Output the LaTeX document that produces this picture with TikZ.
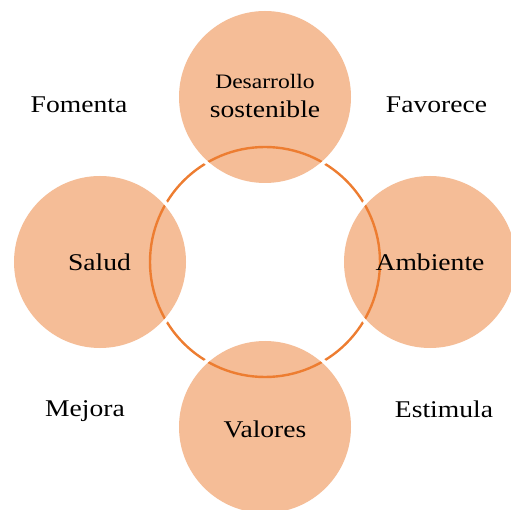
\documentclass[tikz,border=0pt]{standalone}
\usepackage{fontspec}
\setmainfont{Liberation Serif}[FakeStretch=1.15]
\definecolor{ringc}{HTML}{ED7D31}
\definecolor{fillc}{HTML}{F5BD97}
\begin{document}
\begin{tikzpicture}[x=1pt,y=-1pt,
  bubble/.style={circle,fill=fillc,minimum size=172pt,inner sep=0pt},
  halo/.style={circle,fill=white,minimum size=180pt,inner sep=0pt},
  ringline/.style={draw=ringc,line width=2.4pt},
  lbl/.style={font=\fontsize{24}{28}\selectfont,anchor=base,inner sep=0pt},
  lbls/.style={font=\fontsize{20.5}{24}\selectfont,anchor=base,inner sep=0pt}]
\useasboundingbox (0,0) rectangle (511,510);
\clip (0,0) rectangle (511,510);
\coordinate (c) at (265,262);
\draw[ringline] (c) circle (115);
% halos
\node[halo] at (265,97) {};
\node[halo] at (100,262) {};
\node[halo] at (430,262) {};
\node[halo] at (265,427) {};
% bubbles
\node[bubble] (top) at (265,97) {};
\node[bubble] (left) at (100,262) {};
\node[bubble] (right) at (430,262) {};
\node[bubble] (bottom) at (265,427) {};
% ring inside bubbles
\foreach \p in {(265,97),(100,262),(430,262),(265,427)}{
  \begin{scope}
    \clip \p circle (86);
    \draw[ringline] (c) circle (115);
  \end{scope}
}
% texts
\node[lbls] (t1) at (265,89) {Desarrollo};
\node[lbl] (t2) at (265,118) {sostenible};
\node[lbl] (t3) at (99.5,271) {Salud};
\node[lbl] (t4) at (430,271) {Ambiente};
\node[lbl] (t5) at (265,437) {Valores};
\node[lbl] (l1) at (79,113) {Fomenta};
\node[lbl] (l2) at (436.5,113) {Favorece};
\node[lbl] (l3) at (85,416) {Mejora};
\node[lbl] (l4) at (444,417) {Estimula};
\end{tikzpicture}
\end{document}
